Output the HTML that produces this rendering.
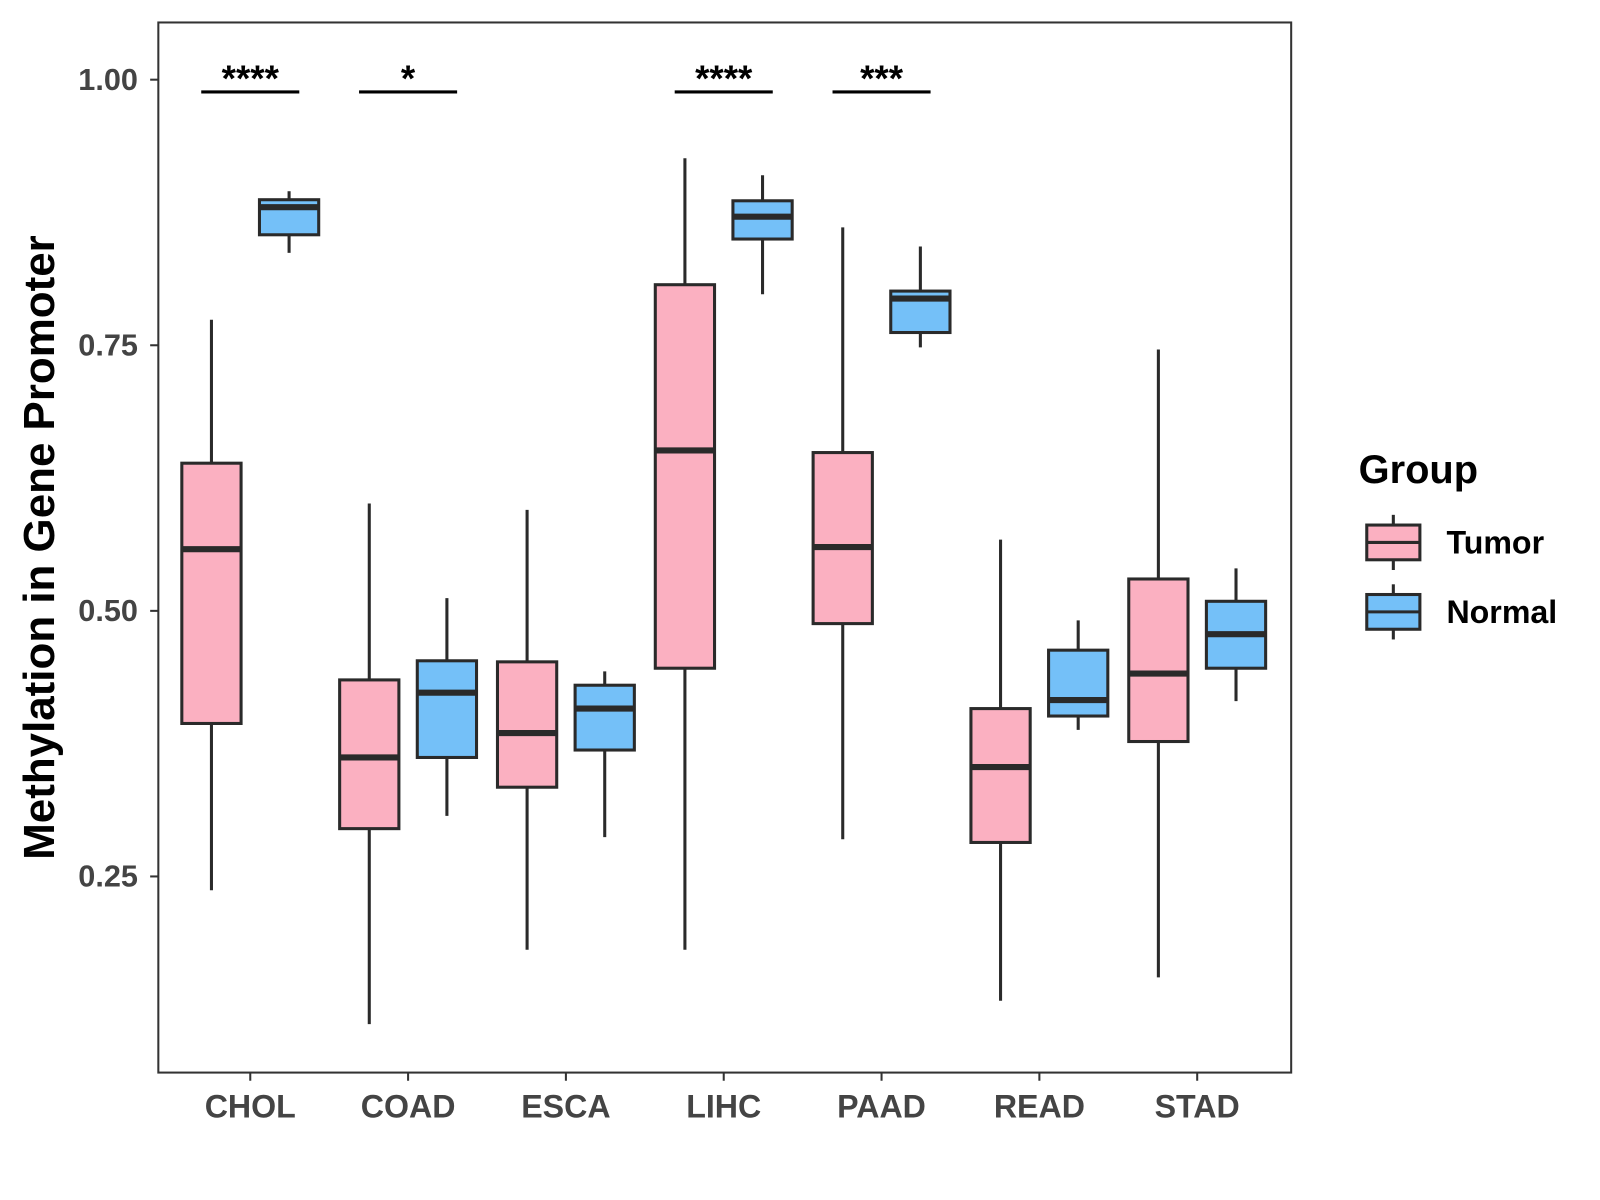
<!DOCTYPE html>
<html><head><meta charset="utf-8"><style>
html,body{margin:0;padding:0;background:#fff;width:1600px;height:1200px;overflow:hidden}
svg{font-family:"Liberation Sans",Arial,sans-serif}
</style></head><body>
<svg width="1600" height="1200"><g id="chart" transform="scale(1.0215)"></g></svg>
<script>
const categories=["CHOL","COAD","ESCA","LIHC","PAAD","READ","STAD"];
// [min, q1, median, q3, max]
const tumorStats=[[0.237,0.394,0.558,0.639,0.774],[0.111,0.295,0.362,0.435,0.601],[0.181,0.334,0.385,0.452,0.595],[0.181,0.446,0.651,0.807,0.926],[0.285,0.488,0.560,0.649,0.861],[0.133,0.282,0.353,0.408,0.567],[0.155,0.377,0.441,0.530,0.746]];
const normalStats=[[0.837,0.854,0.880,0.887,0.895],[0.307,0.362,0.423,0.453,0.512],[0.287,0.369,0.408,0.430,0.443],[0.798,0.850,0.871,0.886,0.910],[0.748,0.762,0.794,0.801,0.843],[0.388,0.401,0.416,0.463,0.491],[0.415,0.446,0.478,0.509,0.540]];
const sigLabels=["****","*","","****","***","",""];
const yTicks=[0.25,0.50,0.75,1.00];
const yTickLabels=["0.25","0.50","0.75","1.00"];

const NS="http://www.w3.org/2000/svg";
const svg=document.getElementById('chart');
const y=v=>78+(1-v)*1040;
const x=i=>245+i*154.5;
function mk(tag,attrs,parent){const e=document.createElementNS(NS,tag);for(const k in attrs)e.setAttribute(k,attrs[k]);(parent||svg).appendChild(e);return e;}

const panel=mk('rect',{x:155,y:22,width:1109,height:1028,fill:'none',stroke:'#333','stroke-width':2});



yTicks.forEach((t,i)=>{
  const ln=mk('line',{x1:147,x2:155,y1:y(t),y2:y(t),stroke:'#333','stroke-width':2});
  
  
  const tx=mk('text',{x:135,y:y(t)+10,'text-anchor':'end','font-size':30,'font-weight':'bold',fill:'#444'});
  tx.textContent=yTickLabels[i];
  
  
});
categories.forEach((c,i)=>{
  const ln=mk('line',{x1:x(i),x2:x(i),y1:1050,y2:1058,stroke:'#333','stroke-width':2});
  
  
  const tx=mk('text',{x:x(i),y:1094,'text-anchor':'middle','font-size':31.5,'font-weight':'bold',fill:'#444'});
  tx.textContent=c;
  
  
});
const yt=mk('text',{x:0,y:0,transform:'translate(53,536) rotate(-90)','text-anchor':'middle','font-size':43,'font-weight':'bold',fill:'#000'});
yt.textContent='Methylation in Gene Promoter';



function box(cx,s,fill,name){
  const g=mk('g',{});
  
  
  mk('line',{x1:cx,x2:cx,y1:y(s[0]),y2:y(s[4]),stroke:'#2a2a2a','stroke-width':3},g);
  mk('rect',{x:cx-29,y:y(s[3]),width:58,height:y(s[1])-y(s[3]),fill:fill,stroke:'#2a2a2a','stroke-width':3},g);
  mk('line',{x1:cx-29,x2:cx+29,y1:y(s[2]),y2:y(s[2]),stroke:'#2a2a2a','stroke-width':6},g);
}
categories.forEach((c,i)=>{
  box(x(i)-38,tumorStats[i],'#FBB0C1','box-tumor-'+c.toLowerCase());
  box(x(i)+38,normalStats[i],'#74C0F8','box-normal-'+c.toLowerCase());
  if(sigLabels[i]){
    const l=mk('line',{x1:x(i)-48,x2:x(i)+48,y1:90,y2:90,stroke:'#000','stroke-width':3});
    
    
    const t=mk('text',{x:x(i),y:89,'text-anchor':'middle','font-size':36,'font-weight':'bold',fill:'#000'});
    t.textContent=sigLabels[i];
    
    
  }
});
const lt=mk('text',{x:1330,y:473,'font-size':39,'font-weight':'bold',fill:'#000'});
lt.textContent='Group';


[['Tumor','#FBB0C1',531],['Normal','#74C0F8',599]].forEach(([n,f,cy])=>{
  const g=mk('g',{});
  
  
  mk('line',{x1:1364,x2:1364,y1:cy-27,y2:cy+27,stroke:'#2a2a2a','stroke-width':3},g);
  mk('rect',{x:1338,y:cy-17,width:52,height:34,fill:f,stroke:'#2a2a2a','stroke-width':3},g);
  mk('line',{x1:1338,x2:1390,y1:cy,y2:cy,stroke:'#2a2a2a','stroke-width':3},g);
  const t=mk('text',{x:1416,y:cy+11,'font-size':31.5,'font-weight':'bold',fill:'#000'},g);
  t.textContent=n;
});
</script>
</body></html>
